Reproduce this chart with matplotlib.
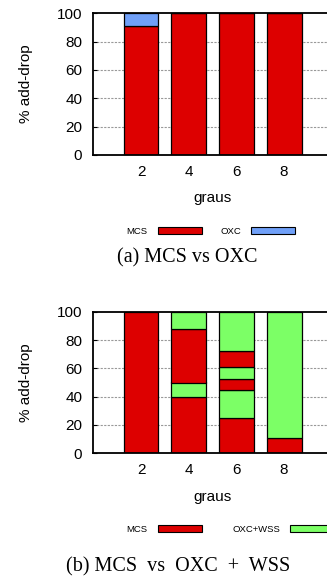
import matplotlib
matplotlib.use("Agg")
import matplotlib.pyplot as plt
from matplotlib.patches import Patch

graus = ["2", "4", "6", "8"]

# (a) MCS vs OXC
a_mcs = [91, 100, 100, 100]
a_oxc = [9, 0, 0, 0]

# (b) MCS vs OXC+WSS: stacked segments bottom->top, per grau
b_values = [[100],
            [40, 10, 37.5, 12.5],
            [25, 19.4, 8.3, 8.3, 11.1, 27.9],
            [10.5, 89.5]]
b_kinds = [["MCS"],
           ["MCS", "WSS", "MCS", "WSS"],
           ["MCS", "WSS", "MCS", "WSS", "MCS", "WSS"],
           ["MCS", "WSS"]]

RED, BLUE, GREEN = "#dd0000", "#70a0f8", "#7cff66"
W, H = 327, 578

plt.rcParams["font.family"] = "Liberation Sans"
fig = plt.figure(figsize=(W / 100, H / 100), dpi=100)


def px_axes(left, top, right, bottom):
    return fig.add_axes([left / W, 1 - bottom / H, (right - left) / W,
                         (bottom - top) / H])


def style(ax):
    ax.set_xlim(0, 5)
    ax.set_ylim(0, 100)
    ax.set_xticks(range(1, 5))
    ax.set_xticklabels(graus)
    ax.set_yticks(range(0, 101, 20))
    ax.tick_params(axis="y", direction="in", length=3, pad=8, labelsize=11)
    ax.tick_params(axis="x", length=0, pad=7, labelsize=11)
    for y in range(20, 100, 20):
        ax.axhline(y, color="#999999", lw=0.8, ls=(0, (2, 1.2)), zorder=0)
    for sp in ax.spines.values():
        sp.set_linewidth(1.3)
    ax.set_ylabel("% add-drop", fontsize=11, va="center")
    ax.yaxis.set_label_coords(-0.284, 0.5)
    ax.set_xlabel("graus", fontsize=11, va="center")
    ax.xaxis.set_label_coords(0.498, -0.306)


xs = range(1, 5)
bw = 0.73

ax1 = px_axes(93.3, 13.3, 331.8, 155)
ax1.bar(xs, a_mcs, bw, color=RED, edgecolor="black", lw=0.9, zorder=2)
ax1.bar(xs, a_oxc, bw, bottom=a_mcs, color=BLUE, edgecolor="black", lw=0.9,
        zorder=2)
style(ax1)

ax2 = px_axes(93.3, 311.7, 331.8, 453.3)
for x, vals, kinds in zip(xs, b_values, b_kinds):
    base = 0
    for v, k in zip(vals, kinds):
        ax2.bar(x, v, bw, bottom=base, color=RED if k == "MCS" else GREEN,
                edgecolor="black", lw=0.9, zorder=2)
        base += v
style(ax2)


def legend(ax, labels, colors, ypx, colsp):
    handles = [Patch(facecolor=c, edgecolor="black", lw=0.8) for c in colors]
    ax.legend(handles, labels, loc="center left",
              bbox_to_anchor=(126.7 / W, 1 - ypx / H),
              bbox_transform=fig.transFigure, ncol=2, frameon=False,
              markerfirst=False, fontsize=6.8, handlelength=4.7,
              handleheight=0.74, handletextpad=1.06, columnspacing=colsp,
              borderpad=0, borderaxespad=0)


legend(ax1, ["MCS", "OXC"], [RED, BLUE], 231, 1.9)
legend(ax2, ["MCS", "OXC+WSS"], [RED, GREEN], 529, 3.2)

fig.text(187.5 / W, 1 - 258 / H, "(a) MCS vs OXC", ha="center", va="center",
         family="Liberation Serif", fontsize=14.5)
fig.text(178 / W, 1 - 567 / H, "(b) MCS  vs  OXC  +  WSS", ha="center",
         va="center", family="Liberation Serif", fontsize=14.5)

fig.savefig("out.png", dpi=100)
